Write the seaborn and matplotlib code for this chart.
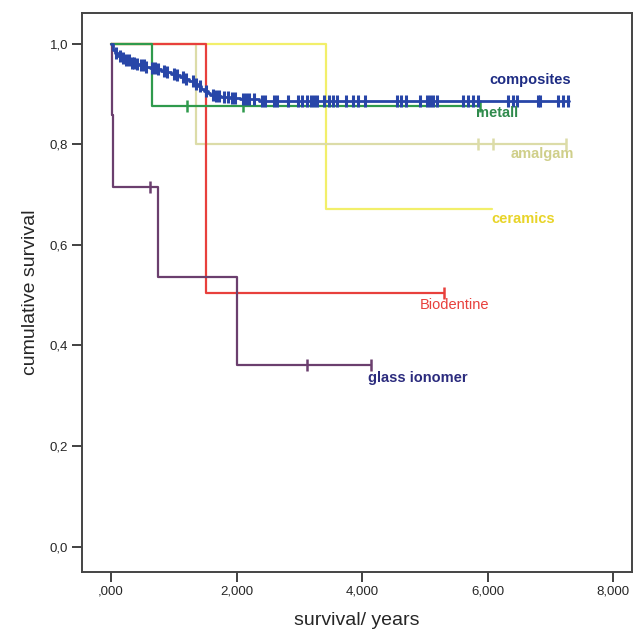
import numpy as np
import pandas as pd
import matplotlib
matplotlib.use("Agg")
import matplotlib.pyplot as plt
import seaborn as sns

# Kaplan-Meier steps (time in years, survival after the step)
composites_t = [0.0, 0.03, 0.07, 0.12, 0.18, 0.24, 0.30, 0.38, 0.45, 0.54, 0.62,
                0.72, 0.80, 0.88, 0.95, 1.03, 1.10, 1.18, 1.25, 1.32, 1.38, 1.44,
                1.48, 1.54, 1.58, 1.66, 1.75, 1.90, 2.05, 2.35]
composites_s = [1.0, 0.988, 0.981, 0.975, 0.971, 0.967, 0.962, 0.959, 0.957, 0.954,
                0.952, 0.949, 0.946, 0.943, 0.940, 0.937, 0.933, 0.929, 0.925,
                0.920, 0.915, 0.910, 0.905, 0.901, 0.898, 0.896, 0.894, 0.892,
                0.890, 0.886]
composites_end = 7.30
composites_cens = [0.08, 0.14, 0.2, 0.24, 0.28, 0.33, 0.37, 0.42, 0.48, 0.52, 0.56,
                   0.66, 0.7, 0.75, 0.85, 0.9, 1.0, 1.05, 1.15, 1.2, 1.3, 1.35, 1.42,
                   1.52, 1.62, 1.67, 1.72, 1.8, 1.86, 1.92, 1.98, 2.1, 2.15, 2.2, 2.28,
                   2.4, 2.45, 2.6, 2.65, 2.82, 2.98, 3.05, 3.12, 3.18, 3.23, 3.28,
                   3.4, 3.47, 3.54, 3.6, 3.75, 3.85, 3.93, 4.05, 4.55, 4.62, 4.7,
                   4.92, 5.03, 5.08, 5.13, 5.2, 5.6, 5.68, 5.76, 5.85, 6.33, 6.4,
                   6.47, 6.8, 6.84, 7.12, 7.2, 7.28]

metall_t = [0.0, 0.65]
metall_s = [1.0, 0.875]
metall_end = 5.88
metall_cens = [1.21, 2.1, 5.88]

amalgam_t = [0.0, 1.35]
amalgam_s = [1.0, 0.80]
amalgam_end = 7.25
amalgam_cens = [5.85, 6.09, 7.25]

ceramics_t = [0.0, 3.43]
ceramics_s = [1.0, 0.672]
ceramics_end = 6.07
ceramics_cens = []

biodentine_t = [0.0, 1.52]
biodentine_s = [1.0, 0.505]
biodentine_end = 5.31
biodentine_cens = [5.31]

glass_t = [0.0, 0.01, 0.04, 0.75, 2.0]
glass_s = [1.0, 0.857, 0.714, 0.536, 0.361]
glass_end = 4.14
glass_cens = [0.62, 3.12, 4.14]

x_ticks = [0, 2, 4, 6, 8]
x_ticklabels = [",000", "2,000", "4,000", "6,000", "8,000"]
y_ticks = [0.0, 0.2, 0.4, 0.6, 0.8, 1.0]
y_ticklabels = ["0,0", "0,2", "0,4", "0,6", "0,8", "1,0"]

groups = [
    # name, times, surv, end, censored, line colour, label colour, label pos, bold, width
    ("ceramics", ceramics_t, ceramics_s, ceramics_end, ceramics_cens, "#f2ef6a", "#e8d428", (6.57, 0.651), True, 1.6),
    ("amalgam", amalgam_t, amalgam_s, amalgam_end, amalgam_cens, "#dcdca8", "#cfcf8a", (6.87, 0.780), True, 1.6),
    ("Biodentine", biodentine_t, biodentine_s, biodentine_end, biodentine_cens, "#e8403c", "#e8403c", (5.47, 0.480), False, 1.6),
    ("glass ionomer", glass_t, glass_s, glass_end, glass_cens, "#6b3f6e", "#2c2c7e", (4.88, 0.335), True, 1.6),
    ("metall", metall_t, metall_s, metall_end, metall_cens, "#2f9a4c", "#2f8a4c", (6.15, 0.861), True, 1.6),
    ("composites", composites_t, composites_s, composites_end, composites_cens, "#2846a8", "#1e2c84", (6.68, 0.927), True, 2.0),
]

sns.set_style("white")
plt.rcParams["font.family"] = ["Liberation Sans", "DejaVu Sans"]

fig = plt.figure(figsize=(6.36, 6.34), dpi=100)
ax = fig.add_axes([0.129, 0.098, 0.865, 0.881])

for i, (name, t, s, end, cens, col, lcol, pos, bold, lw) in enumerate(groups):
    df = pd.DataFrame({"t": list(t) + [end], "s": list(s) + [s[-1]]})
    sns.lineplot(data=df, x="t", y="s", drawstyle="steps-post", color=col,
                 linewidth=lw, ax=ax, zorder=2 + i, estimator=None, sort=False)
    if cens:
        idx = np.searchsorted(np.array(t), np.array(cens), side="right") - 1
        cdf = pd.DataFrame({"t": cens, "s": np.array(s)[idx]})
        sns.scatterplot(data=cdf, x="t", y="s", marker="|", color=col, s=70,
                        linewidth=lw + 0.2, ax=ax, zorder=2 + i)
    ax.text(pos[0], pos[1], name, color=lcol, fontsize=10.5,
            fontweight="bold" if bold else "normal", ha="center", va="center",
            zorder=10)

ax.set_xlim(-0.46, 8.30)
ax.set_ylim(-0.05, 1.06)
ax.set_xticks(x_ticks)
ax.set_xticklabels(x_ticklabels, fontsize=9.5)
ax.set_yticks(y_ticks)
ax.set_yticklabels(y_ticklabels, fontsize=9.5)
ax.tick_params(axis="both", direction="out", length=7, width=1.3, color="#333333",
               left=True, bottom=True, pad=3)
for sp in ax.spines.values():
    sp.set_color("#444444")
    sp.set_linewidth(1.4)
ax.set_xlabel("survival/ years", fontsize=14, labelpad=10)
ax.set_ylabel("cumulative survival", fontsize=14, labelpad=8)

fig.savefig("out.png", dpi=100)
